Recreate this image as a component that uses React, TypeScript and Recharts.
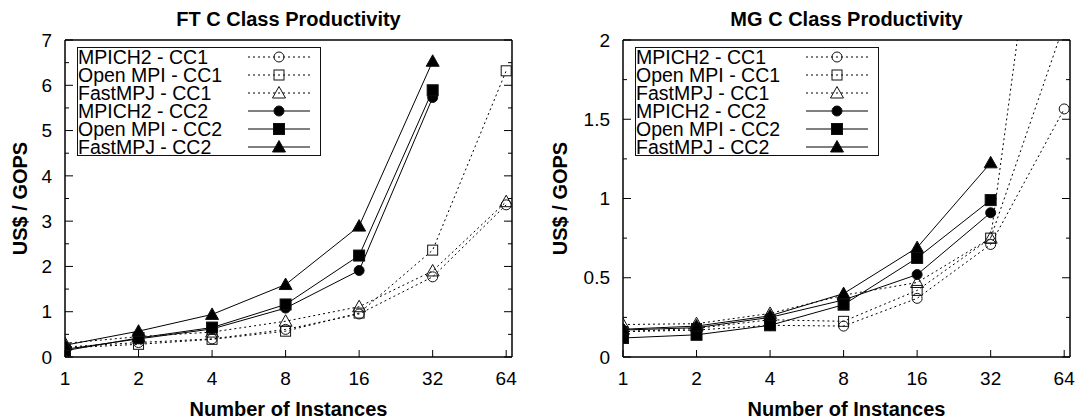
import React from 'react';
import { LineChart, Line, XAxis, YAxis, ReferenceLine } from 'recharts';

// ---------- data ----------
const instances = [1, 2, 4, 8, 16, 32, 64];
const xTickLabels = ['1', '2', '4', '8', '16', '32', '64'];

const seriesNames = ['MPICH2 - CC1', 'Open MPI - CC1', 'FastMPJ - CC1', 'MPICH2 - CC2', 'Open MPI - CC2', 'FastMPJ - CC2'];
const seriesKeys = ['mpichCC1', 'openCC1', 'fastCC1', 'mpichCC2', 'openCC2', 'fastCC2'];

// FT C Class Productivity (US$ / GOPS)
const ftMpichCC1 = [0.22, 0.32, 0.40, 0.61, 0.95, 1.77, 3.36];
const ftOpenCC1 = [0.20, 0.28, 0.39, 0.57, 0.97, 2.36, 6.32];
const ftFastCC1 = [0.30, 0.45, 0.55, 0.79, 1.11, 1.90, 3.43];
const ftMpichCC2 = [0.17, 0.40, 0.62, 1.08, 1.91, 5.73, null];
const ftOpenCC2 = [0.14, 0.42, 0.65, 1.16, 2.24, 5.89, null];
const ftFastCC2 = [0.26, 0.57, 0.94, 1.60, 2.89, 6.53, null];

// MG C Class Productivity (US$ / GOPS)
const mgMpichCC1 = [0.16, 0.17, 0.20, 0.195, 0.37, 0.71, 1.565];
const mgOpenCC1 = [0.16, 0.18, 0.235, 0.225, 0.42, 0.75, 4.2];
const mgFastCC1 = [0.205, 0.21, 0.275, 0.39, 0.47, 0.75, 2.1];
const mgMpichCC2 = [0.17, 0.185, 0.25, 0.36, 0.52, 0.91, null];
const mgOpenCC2 = [0.12, 0.14, 0.20, 0.33, 0.625, 0.99, null];
const mgFastCC2 = [0.175, 0.195, 0.26, 0.40, 0.69, 1.225, null];

const ftYMajor = [0, 1, 2, 3, 4, 5, 6, 7];
const ftYMinor = [0.5, 1.5, 2.5, 3.5, 4.5, 5.5, 6.5];
const mgYMajor = [0, 0.5, 1, 1.5, 2];
const mgYMinor = [0.25, 0.75, 1.25, 1.75];

// ---------- styles ----------
const seriesShapes = ['circle', 'square', 'triangle', 'circle', 'square', 'triangle'];
const seriesFilled = [false, false, false, true, true, true];
const FONT = '"Liberation Sans", Arial, Helvetica, sans-serif';
const PLOT_W = 447;

const buildRows = (vals: (number | null)[][]) =>
  instances.map((n, i) => {
    const r: any = { n };
    seriesKeys.forEach((k, j) => {
      r[k] = vals[j][i];
    });
    return r;
  });

const ftRows = buildRows([ftMpichCC1, ftOpenCC1, ftFastCC1, ftMpichCC2, ftOpenCC2, ftFastCC2]);
const mgRows = buildRows([mgMpichCC1, mgOpenCC1, mgFastCC1, mgMpichCC2, mgOpenCC2, mgFastCC2]);

function marker(shape: string, filled: boolean, cx: number, cy: number, key?: any) {
  const common = { stroke: '#111', strokeWidth: 1, fill: filled ? '#000' : 'none' };
  if (shape === 'circle') return <circle key={key} cx={cx} cy={cy} r={5} {...common} />;
  if (shape === 'square') {
    const h = filled ? 5.5 : 5;
    return <rect key={key} x={cx - h} y={cy - h} width={2 * h} height={2 * h} {...common} />;
  }
  return (
    <polygon
      key={key}
      points={`${cx},${cy - 6.5} ${cx - 6.5},${cy + 5} ${cx + 6.5},${cy + 5}`}
      {...common}
    />
  );
}

const XTick = (props: any) => {
  const { x, y, payload } = props;
  const idx = instances.indexOf(payload.value);
  return (
    <g>
      <line x1={x} x2={x} y1={y} y2={y - 7} stroke="#000" strokeWidth={1} />
      <text x={x} y={y + 28} textAnchor="middle" fontSize={19} fontFamily={FONT} fill="#000">
        {xTickLabels[idx]}
      </text>
    </g>
  );
};

const makeYTickLeft = (major: number[]) => (props: any) => {
  const { x, y, payload } = props;
  const isMajor = major.includes(payload.value);
  return (
    <g>
      <line x1={x} x2={x + (isMajor ? 8 : 4)} y1={y} y2={y} stroke="#000" strokeWidth={1} />
      {isMajor && (
        <text x={x - 13} y={y} dy="0.35em" textAnchor="end" fontSize={19} fontFamily={FONT} fill="#000">
          {String(payload.value)}
        </text>
      )}
    </g>
  );
};

const makeYTickRight = (major: number[]) => (props: any) => {
  const { x, y, payload } = props;
  const isMajor = major.includes(payload.value);
  return <line x1={x} x2={x - (isMajor ? 8 : 4)} y1={y} y2={y} stroke="#000" strokeWidth={1} />;
};

const xLabel = (props: any) => {
  const vb = props.viewBox;
  return (
    <text
      x={vb.x + vb.width / 2}
      y={vb.y + 59}
      textAnchor="middle"
      fontSize={20}
      fontWeight="bold"
      fontFamily={FONT}
      fill="#000"
    >
      Number of Instances
    </text>
  );
};

const yLabel = (props: any) => {
  const vb = props.viewBox;
  const cx = vb.x + 20;
  const cy = vb.y + vb.height / 2;
  return (
    <text
      x={cx}
      y={cy}
      dy="0.35em"
      transform={`rotate(-90, ${cx}, ${cy})`}
      textAnchor="middle"
      fontSize={20}
      fontWeight="bold"
      fontFamily={FONT}
      fill="#000"
    >
      US$ / GOPS
    </text>
  );
};

function LegendBox({ left }: { left: number }) {
  return (
    <div
      style={{
        position: 'absolute',
        left,
        top: 47,
        width: 244,
        height: 109,
        border: '1px solid #111',
        boxSizing: 'border-box',
        fontFamily: FONT,
        fontSize: 19.5,
        color: '#000',
      }}
    >
      {seriesNames.map((name, i) => (
        <div key={name} style={{ position: 'absolute', left: 0, top: i * 18, height: 18, width: 242 }}>
          <span style={{ position: 'absolute', left: 0, top: 0, lineHeight: '18px', whiteSpace: 'nowrap' }}>
            {name}
          </span>
          <svg style={{ position: 'absolute', left: 169, top: 0 }} width={64} height={18}>
            <line
              x1={1}
              x2={63}
              y1={9}
              y2={9}
              stroke="#000"
              strokeWidth={1}
              strokeDasharray={seriesFilled[i] ? undefined : '2 3'}
            />
            {marker(seriesShapes[i], seriesFilled[i], 32, 9)}
          </svg>
        </div>
      ))}
    </div>
  );
}

function Panel(props: {
  x: number;
  w: number;
  yw: number;
  rows: any[];
  yMajor: number[];
  yMinor: number[];
  yMax: number;
  title: string;
}) {
  const { x, w, yw, rows, yMajor, yMinor, yMax, title } = props;
  const mr = w - yw - PLOT_W - 1;
  const ticks = [...yMajor, ...yMinor].sort((a, b) => a - b);
  return (
    <div style={{ position: 'absolute', left: x, top: 0, width: w, height: 419 }}>
      <LineChart width={w} height={419} data={rows} margin={{ top: 40, right: mr, bottom: 0, left: 0 }}>
        <XAxis
          dataKey="n"
          type="number"
          scale="log"
          domain={[1, 67.6]}
          ticks={instances}
          interval={0}
          height={62}
          tickSize={0}
          tickMargin={0}
          tickLine={false}
          axisLine={{ stroke: '#000', strokeWidth: 1.5 }}
          tick={XTick}
          allowDataOverflow
          label={xLabel}
        />
        <YAxis
          yAxisId="left"
          type="number"
          domain={[0, yMax]}
          ticks={ticks}
          interval={0}
          width={yw}
          tickSize={0}
          tickMargin={0}
          tickLine={false}
          axisLine={{ stroke: '#000', strokeWidth: 1.5 }}
          tick={makeYTickLeft(yMajor)}
          allowDataOverflow
          label={yLabel}
        />
        <YAxis
          yAxisId="right"
          orientation="right"
          type="number"
          domain={[0, yMax]}
          ticks={ticks}
          interval={0}
          width={1}
          tickSize={0}
          tickMargin={0}
          tickLine={false}
          axisLine={{ stroke: '#000', strokeWidth: 1.5 }}
          tick={makeYTickRight(yMajor)}
          allowDataOverflow
        />
        <ReferenceLine yAxisId="left" y={yMax} stroke="#000" strokeWidth={1.5} ifOverflow="visible" />
        {seriesKeys.map((k, i) => (
          <Line
            key={k}
            yAxisId="left"
            dataKey={k}
            name={seriesNames[i]}
            stroke="#000"
            strokeWidth={1}
            strokeDasharray={seriesFilled[i] ? undefined : '2 3'}
            isAnimationActive={false}
            activeDot={false}
            connectNulls={false}
            dot={(p: any) => {
              if (p.cy == null || p.cx == null || p.value == null || Number.isNaN(p.cy)) {
                return <g key={`d-${k}-${p.index}`} />;
              }
              return (
                <g key={`d-${k}-${p.index}`}>{marker(seriesShapes[i], seriesFilled[i], p.cx, p.cy)}</g>
              );
            }}
          />
        ))}
      </LineChart>
      <div
        style={{
          position: 'absolute',
          left: yw,
          top: 9,
          width: PLOT_W,
          textAlign: 'center',
          fontFamily: FONT,
          fontSize: 20,
          fontWeight: 'bold',
          lineHeight: '20px',
          whiteSpace: 'nowrap',
          color: '#000',
        }}
      >
        {title}
      </div>
      <LegendBox left={yw + 12} />
    </div>
  );
}

export default function App() {
  return (
    <div
      style={{
        position: 'absolute',
        left: 0,
        top: 0,
        width: 1079,
        height: 419,
        overflow: 'hidden',
        background: '#fff',
      }}
    >
      <Panel
        x={0}
        w={540}
        yw={65}
        rows={ftRows}
        yMajor={ftYMajor}
        yMinor={ftYMinor}
        yMax={7}
        title="FT C Class Productivity"
      />
      <Panel
        x={540}
        w={539}
        yw={83}
        rows={mgRows}
        yMajor={mgYMajor}
        yMinor={mgYMinor}
        yMax={2}
        title="MG C Class Productivity"
      />
    </div>
  );
}
